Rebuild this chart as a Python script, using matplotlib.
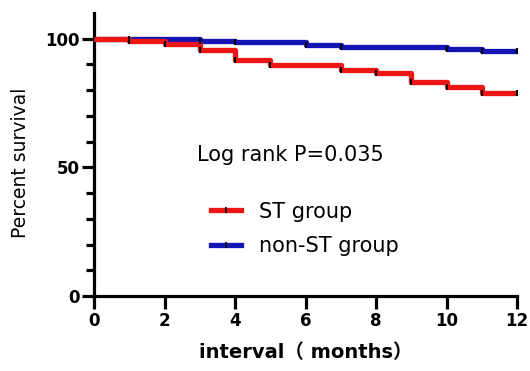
import matplotlib
matplotlib.use("Agg")
import matplotlib.pyplot as plt
from matplotlib.ticker import FixedLocator
from matplotlib.lines import Line2D

plt.rcParams['font.family'] = ['DejaVu Sans', 'Noto Sans CJK SC']

# survival curves (percent)
months = [0, 1, 2, 3, 4, 5, 6, 7, 8, 9, 10, 11, 12]
st_group = [100, 99.0, 97.9, 95.8, 91.9, 89.6, 89.6, 88.0, 86.7, 83.1, 81.1, 78.9, 78.9]
non_st_group = [100, 100, 100, 99.0, 98.8, 98.8, 97.7, 96.9, 96.9, 96.9, 96.2, 95.2, 95.2]
st_censor = [1, 2, 3, 4, 5, 7, 8, 9, 10, 11, 12]
non_st_censor = [1, 3, 4, 6, 7, 10, 11, 12]

x_ticks = [0, 2, 4, 6, 8, 10, 12]
y_ticks = [0, 50, 100]
y_minor = [10, 20, 30, 40, 60, 70, 80, 90]

red = "#ee1515"
blue = "#1414b4"

fig = plt.figure(figsize=(5.3, 3.71), dpi=100)
# axes box in pixels: x 94..517, y 13..296
ax = fig.add_axes([94 / 530, 1 - 296 / 371, (517 - 94) / 530, (296 - 13) / 371])

series = [
    (non_st_group, non_st_censor, blue),
    (st_group, st_censor, red),
]
for vals, cens, col in series:
    ax.step(months, vals, where="post", color=col, lw=3.8,
            solid_capstyle="butt", zorder=3, clip_on=False)
    cy = [vals[months.index(m)] for m in cens]
    ax.plot(cens, cy, ls="none", marker="|", color="black", ms=5, mew=1.5,
            zorder=4, clip_on=False)

ax.set_xlim(0, 12)
ax.set_ylim(0, 110)
ax.set_xticks(x_ticks)
ax.set_yticks(y_ticks)
ax.yaxis.set_minor_locator(FixedLocator(y_minor))
for s in ["top", "right"]:
    ax.spines[s].set_visible(False)
for s in ["left", "bottom"]:
    ax.spines[s].set_linewidth(2.3)
ax.tick_params(which="major", length=9, width=2.3, labelsize=12)
ax.tick_params(axis="y", which="major", pad=1.5)
ax.tick_params(axis="x", which="major", pad=2.5)
ax.tick_params(axis="y", which="minor", length=5.5, width=2.3)
for lab in ax.get_xticklabels() + ax.get_yticklabels():
    lab.set_fontweight("bold")

ax.set_ylabel("Percent survival", fontsize=13.5)
ax.yaxis.set_label_coords(-(94 - 21) / 423, 0.47)
ax.set_xlabel("interval（ months）", fontsize=14, fontweight="bold")
ax.xaxis.set_label_coords(0.5, -(353 - 296) / 283)
ax.xaxis.label.set_va("center")
ax.yaxis.label.set_va("center")

fig.text(197 / 530, 1 - 155 / 371, "Log rank P=0.035", fontsize=15, va="center",
         fontweight="medium")

leg_handles = [
    Line2D([], [], color=red, lw=3.8, marker="|", mec="black", ms=5, mew=1.2),
    Line2D([], [], color=blue, lw=3.8, marker="|", mec="black", ms=5, mew=1.2),
]
fig.legend(leg_handles, ["ST group", "non-ST group"], loc="center left",
           bbox_to_anchor=(211 / 530, 1 - 229 / 371), frameon=False, fontsize=15,
           handlelength=1.45, handletextpad=0.85, labelspacing=0.7, borderpad=0,
           borderaxespad=0)

fig.savefig("out.png", dpi=100)
